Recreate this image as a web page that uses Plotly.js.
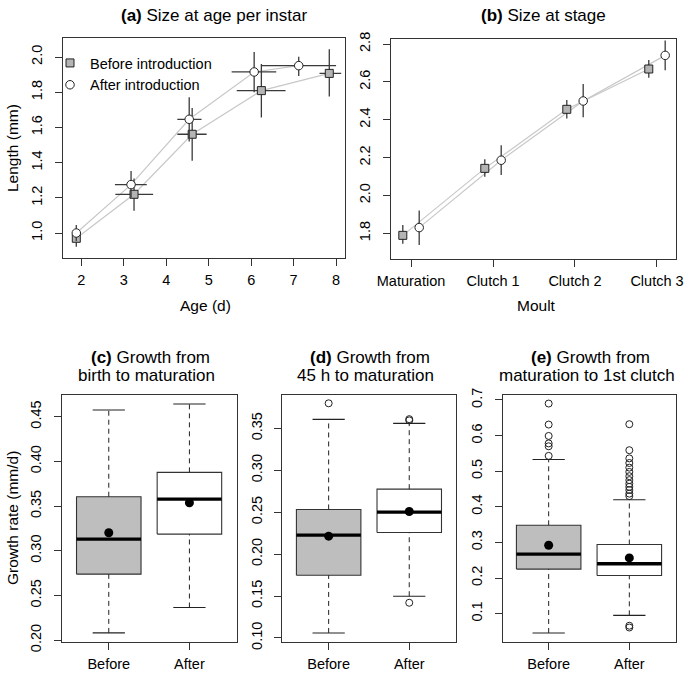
<!DOCTYPE html>
<html>
<head>
<meta charset="utf-8">
<script src="https://cdn.plot.ly/plotly-3.0.1.min.js"></script>
<style>html,body{margin:0;padding:0;background:#fff;}#chart{width:685px;height:673px;}</style>
</head>
<body>
<div id="chart"></div>
<script>
// ---------- Panel (a): size at age per instar ----------
const ageBefore   = [1.88, 3.24, 4.61, 6.24, 7.84];
const ageBeforeLo = [1.83, 2.80, 4.26, 5.66, 7.61];
const ageBeforeHi = [1.93, 3.69, 4.95, 6.81, 8.12];
const lenBefore   = [0.970, 1.220, 1.561, 1.809, 1.907];
const lenBeforeLo = [0.922, 1.127, 1.411, 1.657, 1.775];
const lenBeforeHi = [1.020, 1.310, 1.710, 1.960, 2.044];

const ageAfter    = [1.88, 3.17, 4.54, 6.07, 7.12];
const ageAfterLo  = [1.84, 2.79, 4.26, 5.54, 6.24];
const ageAfterHi  = [1.92, 3.54, 4.83, 6.59, 8.00];
const lenAfter    = [1.000, 1.275, 1.646, 1.915, 1.951];
const lenAfterLo  = [0.955, 1.200, 1.520, 1.800, 1.892];
const lenAfterHi  = [1.045, 1.352, 1.771, 2.028, 2.002];

// ---------- Panel (b): size at stage ----------
const stages       = ["Maturation", "Clutch 1", "Clutch 2", "Clutch 3"];
const sizeBefore   = [1.789, 2.143, 2.455, 2.668];
const sizeBeforeLo = [1.744, 2.099, 2.407, 2.622];
const sizeBeforeHi = [1.844, 2.191, 2.504, 2.715];
const sizeAfter    = [1.830, 2.186, 2.499, 2.740];
const sizeAfterLo  = [1.738, 2.108, 2.413, 2.662];
const sizeAfterHi  = [1.920, 2.265, 2.589, 2.818];

// ---------- Boxplots (c), (d), (e) ----------
const groups = ["Before", "After"];

const cLow  = [0.2082, 0.2366];
const cQ1   = [0.2739, 0.3187];
const cMed  = [0.3131, 0.3579];
const cQ3   = [0.3605, 0.3878];
const cHigh = [0.4576, 0.4643];
const cMean = [0.3202, 0.3538];
const cOutBefore = [];
const cOutAfter  = [];

const dLow  = [0.1060, 0.1498];
const dQ1   = [0.1748, 0.2258];
const dMed  = [0.2226, 0.2500];
const dQ3   = [0.2533, 0.2775];
const dHigh = [0.3607, 0.3560];
const dMean = [0.2214, 0.2509];
const dOutBefore = [0.3799];
const dOutAfter  = [0.3595, 0.3610, 0.1420];

const eLow  = [0.0456, 0.0952];
const eQ1   = [0.2250, 0.2070];
const eMed  = [0.2670, 0.2400];
const eQ3   = [0.3480, 0.2940];
const eHigh = [0.5330, 0.4200];
const eMean = [0.2920, 0.2564];
const eOutBefore = [0.690, 0.631, 0.599, 0.578, 0.570, 0.543];
const eOutAfter  = [0.632, 0.559, 0.536, 0.523, 0.510, 0.498, 0.486, 0.475, 0.465,
                    0.456, 0.447, 0.437, 0.430, 0.066, 0.061];

// ---------- styling ----------
const FONT = "Liberation Sans, Arial, Helvetica, sans-serif";
const W = 685, H = 673;
const px = v => v / W;
const py = v => 1 - v / H;
const BEFORE_FILL = "#b4b4b4";
const BOX_FILL = ["#bebebe", "#ffffff"];
const LINE_GREY = "#c8c8c8";
const ERR_COL = "#3a3a3a";
const DODGE = 0.1;

const traces = [];

function errs(v, lo, hi) {
  return { type: "data", symmetric: false,
    array: v.map((x, i) => hi[i] - x),
    arrayminus: v.map((x, i) => x - lo[i]),
    color: ERR_COL, thickness: 1.3, width: 0 };
}

// Panel (a)
traces.push({ x: ageBefore, y: lenBefore, xaxis: "x", yaxis: "y", mode: "lines",
  line: { color: LINE_GREY, width: 1.2 }, showlegend: false, hoverinfo: "skip" });
traces.push({ x: ageAfter, y: lenAfter, xaxis: "x", yaxis: "y", mode: "lines",
  line: { color: LINE_GREY, width: 1.2 }, showlegend: false, hoverinfo: "skip" });
traces.push({ x: ageBefore, y: lenBefore, xaxis: "x", yaxis: "y", mode: "markers",
  name: "Before introduction",
  error_x: errs(ageBefore, ageBeforeLo, ageBeforeHi),
  error_y: errs(lenBefore, lenBeforeLo, lenBeforeHi),
  marker: { symbol: "square", size: 8, color: BEFORE_FILL, line: { color: "#222", width: 1 } } });
traces.push({ x: ageAfter, y: lenAfter, xaxis: "x", yaxis: "y", mode: "markers",
  name: "After introduction",
  error_x: errs(ageAfter, ageAfterLo, ageAfterHi),
  error_y: errs(lenAfter, lenAfterLo, lenAfterHi),
  marker: { symbol: "circle", size: 8.5, color: "#ffffff", line: { color: "#222", width: 1 } } });

// Panel (b)
const stagePos = stages.map((s, i) => i + 1);
const xb = stagePos.map(p => p - DODGE);
const xa = stagePos.map(p => p + DODGE);
traces.push({ x: xb, y: sizeBefore, xaxis: "x2", yaxis: "y2", mode: "lines",
  line: { color: LINE_GREY, width: 1.2 }, showlegend: false, hoverinfo: "skip" });
traces.push({ x: xa, y: sizeAfter, xaxis: "x2", yaxis: "y2", mode: "lines",
  line: { color: LINE_GREY, width: 1.2 }, showlegend: false, hoverinfo: "skip" });
traces.push({ x: xb, y: sizeBefore, xaxis: "x2", yaxis: "y2", mode: "markers", showlegend: false,
  error_y: errs(sizeBefore, sizeBeforeLo, sizeBeforeHi),
  marker: { symbol: "square", size: 8, color: BEFORE_FILL, line: { color: "#222", width: 1 } } });
traces.push({ x: xa, y: sizeAfter, xaxis: "x2", yaxis: "y2", mode: "markers", showlegend: false,
  error_y: errs(sizeAfter, sizeAfterLo, sizeAfterHi),
  marker: { symbol: "circle", size: 8.5, color: "#ffffff", line: { color: "#222", width: 1 } } });

// Boxplots
function addBoxPanel(xa_, ya_, low, q1, med, q3, high, mean, outB, outA) {
  const outs = [outB, outA];
  const hw = 0.4, cap = 0.2;
  groups.forEach((g, i) => {
    const c = i + 1;
    const common = { xaxis: xa_, yaxis: ya_, showlegend: false, hoverinfo: "skip" };
    // box
    traces.push(Object.assign({ x: [c - hw, c + hw, c + hw, c - hw, c - hw],
      y: [q1[i], q1[i], q3[i], q3[i], q1[i]], mode: "lines", fill: "toself",
      fillcolor: BOX_FILL[i], line: { color: "#333", width: 1.1 } }, common));
    // whiskers (dashed)
    traces.push(Object.assign({ x: [c, c], y: [q3[i], high[i]], mode: "lines",
      line: { color: "#222", width: 1, dash: "5px,4px" } }, common));
    traces.push(Object.assign({ x: [c, c], y: [low[i], q1[i]], mode: "lines",
      line: { color: "#222", width: 1, dash: "5px,4px" } }, common));
    // staples
    traces.push(Object.assign({ x: [c - cap, c + cap], y: [high[i], high[i]], mode: "lines",
      line: { color: "#222", width: 1.1 } }, common));
    traces.push(Object.assign({ x: [c - cap, c + cap], y: [low[i], low[i]], mode: "lines",
      line: { color: "#222", width: 1.1 } }, common));
    // median
    traces.push(Object.assign({ x: [c - hw, c + hw], y: [med[i], med[i]], mode: "lines",
      line: { color: "#000", width: 3.3 } }, common));
    // outliers
    if (outs[i].length) {
      traces.push(Object.assign({ x: outs[i].map(() => c), y: outs[i], mode: "markers",
        marker: { symbol: "circle-open", size: 7, color: "#222", line: { width: 1 } } }, common));
    }
    // mean
    traces.push(Object.assign({ x: [c], y: [mean[i]], mode: "markers",
      marker: { symbol: "circle", size: 9, color: "#000" } }, common));
  });
}
addBoxPanel("x3", "y3", cLow, cQ1, cMed, cQ3, cHigh, cMean, cOutBefore, cOutAfter);
addBoxPanel("x4", "y4", dLow, dQ1, dMed, dQ3, dHigh, dMean, dOutBefore, dOutAfter);
addBoxPanel("x5", "y5", eLow, eQ1, eMed, eQ3, eHigh, eMean, eOutBefore, eOutAfter);

// Axes
function axis(extra) {
  return Object.assign({
    showline: true, mirror: true, linecolor: "#333", linewidth: 1,
    ticks: "outside", ticklen: 7, tickwidth: 1, tickcolor: "#333",
    showgrid: false, zeroline: false, fixedrange: true,
    tickfont: { family: FONT, size: 14.5, color: "#000" }
  }, extra);
}
function yax(extra) {
  return axis(Object.assign({ tickangle: -90, ticklabelstandoff: 7 }, extra));
}
function xax(extra) {
  return axis(Object.assign({ ticklabelstandoff: 2 }, extra));
}
const boxTicks = { tickmode: "array", tickvals: groups.map((g, i) => i + 1), ticktext: groups };

const layout = {
  width: W, height: H,
  margin: { l: 0, r: 0, t: 0, b: 0 },
  paper_bgcolor: "#fff", plot_bgcolor: "#fff",
  font: { family: FONT, color: "#000" },
  showlegend: true,
  legend: { x: px(50), y: py(47), xanchor: "left", yanchor: "top",
    bgcolor: "rgba(0,0,0,0)", font: { family: FONT, size: 14.5, color: "#000" },
    tracegroupgap: 0, itemclick: false, itemdoubleclick: false },
  xaxis:  xax({ domain: [px(62.5), px(345)], anchor: "y", range: [1.555, 8.21], tickvals: [2, 3, 4, 5, 6, 7, 8] }),
  yaxis:  yax({ domain: [py(258), py(38)], anchor: "x", range: [0.858, 2.108],
    tickvals: [1.0, 1.2, 1.4, 1.6, 1.8, 2.0], tickformat: ".1f" }),
  xaxis2: xax({ domain: [px(391), px(676)], anchor: "y2", range: [0.756, 4.232],
    tickmode: "array", tickvals: stagePos, ticktext: stages }),
  yaxis2: yax({ domain: [py(259), py(39.3)], anchor: "x2", range: [1.664, 2.825],
    tickvals: [1.8, 2.0, 2.2, 2.4, 2.6, 2.8], tickformat: ".1f" }),
  xaxis3: xax(Object.assign({ domain: [px(62), px(237)], anchor: "y3", range: [0.42, 2.59] }, boxTicks)),
  yaxis3: yax({ domain: [py(642), py(395)], anchor: "x3", range: [0.198, 0.4743],
    tickvals: [0.20, 0.25, 0.30, 0.35, 0.40, 0.45], tickformat: ".2f" }),
  xaxis4: xax(Object.assign({ domain: [px(282.3), px(456)], anchor: "y4", range: [0.425, 2.58] }, boxTicks)),
  yaxis4: yax({ domain: [py(642), py(395)], anchor: "x4", range: [0.0952, 0.3898],
    tickvals: [0.10, 0.15, 0.20, 0.25, 0.30, 0.35], tickformat: ".2f" }),
  xaxis5: xax(Object.assign({ domain: [px(502.7), px(675.7)], anchor: "y5", range: [0.43, 2.575] }, boxTicks)),
  yaxis5: yax({ domain: [py(642), py(395)], anchor: "x5", range: [0.0203, 0.714],
    tickvals: [0.1, 0.2, 0.3, 0.4, 0.5, 0.6, 0.7], tickformat: ".1f" }),
  annotations: []
};

function note(text, x, y, size, angle) {
  layout.annotations.push({ xref: "paper", yref: "paper", x: px(x), y: py(y),
    text: text, showarrow: false, xanchor: "center", yanchor: "middle",
    textangle: angle || 0, font: { family: FONT, size: size, color: "#000" } });
}
note("<b>(a)</b> Size at age per instar", 214, 15, 17);
note("<b>(b)</b> Size at stage", 543, 15, 17);
note("<b>(c)</b> Growth from", 150, 357, 17);
note("birth to maturation", 146, 375, 17);
note("<b>(d)</b> Growth from", 370, 357, 17);
note("45 h to maturation", 365, 375, 17);
note("<b>(e)</b> Growth from", 590, 357, 17);
note("maturation to 1st clutch", 587, 375, 17);
note("Length (mm)", 12, 148, 15.5, -90);
note("Age (d)", 205, 306, 15.5);
note("Moult", 536, 306, 15.5);
note("Growth rate (mm/d)", 12, 518, 15.5, -90);

Plotly.newPlot("chart", traces, layout, { staticPlot: true, displayModeBar: false });
</script>
</body>
</html>
